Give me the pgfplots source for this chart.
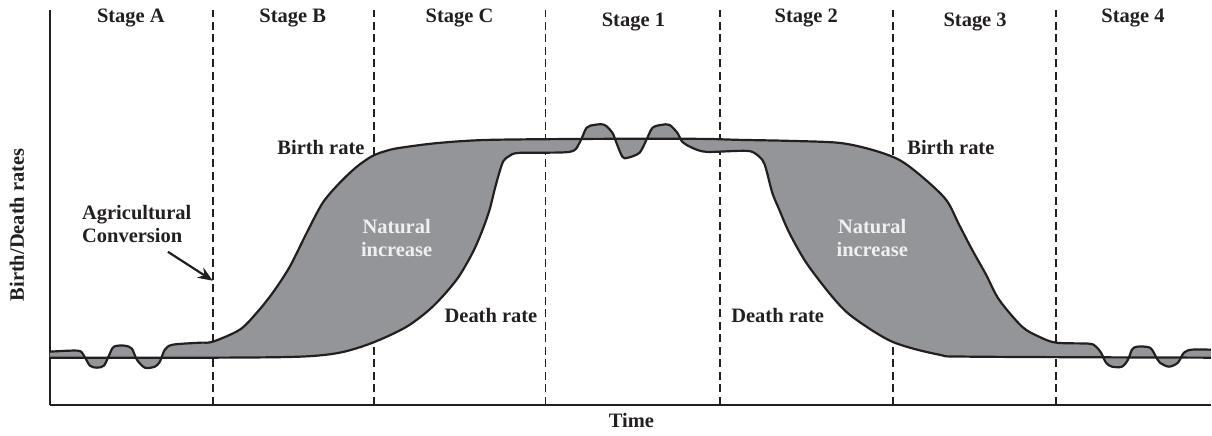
\documentclass[border=0pt]{standalone}
\usepackage{fontspec}
\setmainfont{Liberation Serif}
\usepackage{pgfplots}
\pgfplotsset{compat=1.18}
\usepgfplotslibrary{fillbetween}
\usetikzlibrary{arrows.meta}
\definecolor{fillgray}{RGB}{147,149,152}
\definecolor{ink}{RGB}{35,31,32}
\definecolor{lighttext}{RGB}{240,240,240}
\pgfplotstableread{
x y
50 53
78 54
84 49
90 39
97 37
104 39
109 49
114 58
125 59
132 56
137 45
145 37
155 38
160 43
165 55
173 60
200 62
213 63
240 75
257 92
273 112
290 138
307 172
323 202
340 222
357 238
373 249
390 255
407 258
440 262
490 265
600 266
700 266
740 265
790 264
840 262
873 255
900 245
923 228
947 205
960 180
973 155
987 130
1000 105
1023 78
1040 68
1057 62
1090 61
1097 58
1102 52
1107 42
1113 38
1123 38
1129 45
1133 55
1138 58
1151 57
1157 48
1161 42
1170 38
1179 42
1185 52
1193 55
1212 55
}\birthtable
\pgfplotstableread{
x y
50 47
213 47
300 48
340 52
373 62
407 78
433 98
457 125
473 152
483 175
490 195
495 215
500 233
504 244
510 249
520 252
570 253
580 262
587 277
595 280
605 280
613 272
617 262
623 248
628 247
640 252
647 265
653 277
662 280
670 280
678 272
683 263
693 257
707 253
740 254
753 253
763 245
767 235
773 212
780 195
790 172
807 142
833 108
853 88
893 63
940 50
973 48
1212 47
}\deathtable
\begin{document}
\begin{tikzpicture}
\begin{axis}[
  scale only axis, width=1162pt, height=395pt,
  xmin=50, xmax=1212, ymin=0, ymax=395,
  axis x line=bottom, axis y line=left,
  axis line style={-, line width=2pt, ink},
  ticks=none, clip=false,
]
\path (axis cs:0,-31) rectangle (axis cs:1212,405);
\pgfonlayer{pre main}
\foreach \xx in {213,374,546,721,894,1057}{
  \edef\temp{\noexpand\draw[ink, line width=1.8pt, dash pattern=on 8pt off 4.5pt] (axis cs:\xx,0) -- (axis cs:\xx,395);}
  \temp
}
\endpgfonlayer
\addplot[name path=birth, ink, line width=2.2pt, smooth, tension=0.5] table {\birthtable};
\addplot[name path=death, ink, line width=2.2pt, smooth, tension=0.5] table {\deathtable};
\addplot[draw=none, fill=fillgray] fill between[of=birth and death];
\begin{scope}[every node/.style={font=\fontsize{20.5}{24}\selectfont\bfseries, text=ink}]
\node at (axis cs:131,387) {Stage A};
\node at (axis cs:293,387) {Stage B};
\node at (axis cs:460,387) {Stage C};
\node at (axis cs:634,383) {Stage 1};
\node at (axis cs:807,387) {Stage 2};
\node at (axis cs:976,383) {Stage 3};
\node at (axis cs:1134,387) {Stage 4};
\node[anchor=east, inner sep=0pt] at (axis cs:365,257) {Birth rate};
\node[anchor=west, inner sep=0pt] at (axis cs:908,257) {Birth rate};
\node[anchor=east, inner sep=0pt] at (axis cs:538,89) {Death rate};
\node[anchor=east, inner sep=0pt] at (axis cs:825,89) {Death rate};
\node[align=left, anchor=west, inner sep=0pt] at (axis cs:82,181) {Agricultural\\[-1pt]Conversion};
\node[align=center, text=lighttext] at (axis cs:397,167) {Natural\\[-1pt]increase};
\node[align=center, text=lighttext] at (axis cs:873,167) {Natural\\[-1pt]increase};
\node at (axis cs:632,-16) {Time};
\node[rotate=90] at (axis cs:17,180) {Birth/Death rates};
\end{scope}
\draw[-{Stealth[length=15pt,width=12pt]}, line width=2.2pt, ink] (axis cs:168,153) -- (axis cs:213,124);
\end{axis}
\end{tikzpicture}
\end{document}
